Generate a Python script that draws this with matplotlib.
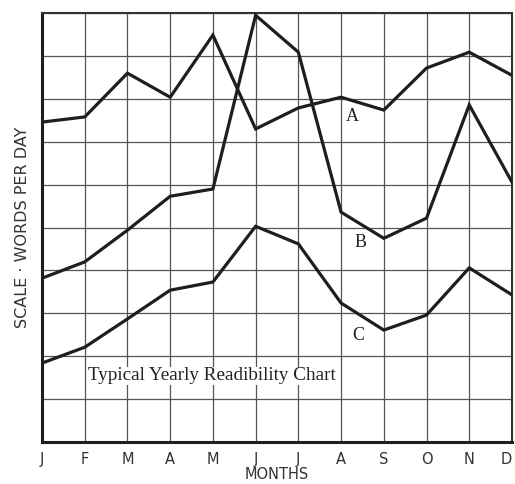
import matplotlib
matplotlib.use("Agg")
import matplotlib.pyplot as plt

# --- Data (grid units, 0-10) ---
months = ["J", "F", "M", "A", "M", "J", "J", "A", "S", "O", "N", "D"]
line_a = [7.46, 7.58, 8.60, 8.04, 9.49, 7.30, 7.79, 8.04, 7.74, 8.72, 9.09, 8.55]
line_b = [3.82, 4.20, 4.94, 5.73, 5.90, 9.95, 9.09, 5.36, 4.75, 5.22, 7.86, 6.06]
line_c = [1.84, 2.21, 2.87, 3.54, 3.73, 5.03, 4.62, 3.24, 2.61, 2.96, 4.06, 3.43]
series_names = ["A", "B", "C"]
label_pos = [(7.26, 7.58), (7.45, 4.66), (7.40, 2.49)]

fig = plt.figure(figsize=(5.15, 4.84), dpi=100)
ax = fig.add_axes([0.0816, 0.0868, 0.9125, 0.886])

x = list(range(len(months)))
for ys in (line_a, line_b, line_c):
    ax.plot(x, ys, color="#1e1e1e", linewidth=2.3, solid_joinstyle="miter", zorder=3)

for name, (lx, ly) in zip(series_names, label_pos):
    ax.text(lx, ly, name, fontsize=13, family="Liberation Serif", color="#222222",
            ha="center", va="center", zorder=4)

ax.text(3.98, 1.54, "Typical Yearly Readibility Chart", fontsize=13.8,
        family="Liberation Serif", color="#222222", ha="center", va="center",
        bbox=dict(facecolor="white", edgecolor="none", pad=0.5), zorder=4)

ax.set_xlim(0, 11)
ax.set_ylim(0, 10)
ax.set_xticks(x)
ax.set_xticklabels(months)
ax.set_yticks(range(11))
ax.set_yticklabels([])
ax.tick_params(axis="both", length=0, labelsize=10.5, labelcolor="#333333", pad=7)
# last month label sits at the right edge, keep it inside the picture
ax.get_xticklabels()[-1].set_horizontalalignment("right")
ax.get_xticklabels()[-1].set_x(11.08)
ax.grid(True, color="#555555", linewidth=0.9, zorder=1)

for side in ("top", "right"):
    ax.spines[side].set_linewidth(1.5)
    ax.spines[side].set_color("#333333")
for side in ("left", "bottom"):
    ax.spines[side].set_linewidth(2.2)
    ax.spines[side].set_color("#1e1e1e")

ax.set_xlabel("MONTHS", fontsize=10.5, color="#333333", labelpad=0)
ax.set_ylabel("SCALE · WORDS PER DAY", fontsize=11.5, color="#333333", labelpad=2)

fig.savefig("out.png", dpi=100)
